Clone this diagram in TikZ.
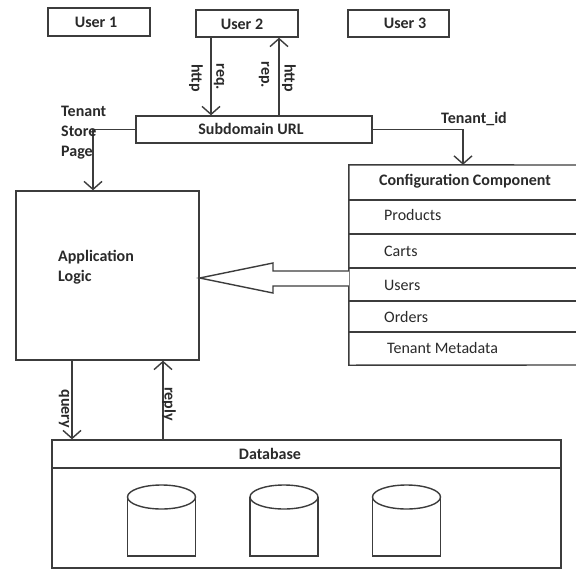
\documentclass[tikz,border=0pt]{standalone}
\usepackage{fontspec}
\setmainfont{Carlito}
\usetikzlibrary{arrows.meta,calc}
\definecolor{ink}{HTML}{3C3C3C}
\definecolor{txt}{HTML}{2A2A2A}
\begin{document}
\begin{tikzpicture}[x=1pt,y=-1pt,
  line/.style={draw=ink, line width=1.4pt},
  box/.style={line, rectangle, inner sep=0pt},
  lbl/.style={text=txt, font=\fontsize{16}{20}\selectfont\bfseries, inner sep=0pt},
  item/.style={text=txt, font=\fontsize{16}{20}\selectfont, inner sep=0pt, anchor=west},
  vlbl/.style={lbl, rotate=-90},
  arr/.style={line, -{Straight Barb[length=8pt,width=18pt]}}]
\useasboundingbox[fill=white] (0,0) rectangle (576,571);

% users
\node[box, minimum width=102pt, minimum height=28pt] (u1) at (99,22) {};
\node[box, minimum width=102pt, minimum height=27pt] (u2) at (247,23.5) {};
\node[box, minimum width=101pt, minimum height=27pt] (u3) at (398.5,23.5) {};
\node[lbl] (u1t) at (96,22) {User 1};
\node[lbl] (u2t) at (242,24) {User 2};
\node[lbl] (u3t) at (405,23) {User 3};

% subdomain
\node[box, minimum width=236pt, minimum height=27pt] (sub) at (254,129.5) {};
\node[lbl] (subt) at (251,129) {Subdomain URL};

% application logic
\node[box, minimum width=183pt, minimum height=169pt] (app) at (107.5,275.5) {};
\node[lbl, anchor=west, align=left] (appt) at (58,267) {Application\\Logic};

% configuration component (runs past the right edge)
\node[inner sep=0pt, minimum width=227pt, minimum height=200pt] (cfg) at (462.5,265) {};
\draw[line] (576,165) -- (cfg.north west) -- (cfg.south west) -- (576,365);
\foreach \yy in {200,234,268,301,332} \draw[line] (cfg.west |- 0,\yy) -- (576,\yy);
\node[lbl] (cfgt) at (465,181) {Configuration Component};
\node[item] (c1) at (384,215) {Products};
\node[item] (c2) at (384,251) {Carts};
\node[item] (c3) at (384,285) {Users};
\node[item] (c4) at (384,317) {Orders};
\node[item] (c5) at (387,348) {Tenant Metadata};

% database
\node[box, minimum width=509pt, minimum height=128pt] (db) at (306.5,504) {};
\draw[line] (db.west |- 0,468) -- (db.east |- 0,468);
\node[lbl] (dbt) at (270,454) {Database};
\foreach \cx in {161.5,284,406.5} {
  \draw[line] (\cx-34,497) -- (\cx-34,556) -- (\cx+34,556) -- (\cx+34,497);
  \draw[line, fill=white] (\cx,497) ellipse [x radius=34, y radius=12];
}

% connectors
\coordinate (reqx) at (211,0);
\coordinate (repx) at (279,0);
\coordinate (tsx) at (93,0);
\coordinate (tidx) at (463,0);
\coordinate (qx) at (72,0);
\coordinate (rx) at (163,0);
\draw[arr] (u2.south -| reqx) -- (sub.north -| reqx);
\draw[arr] (sub.north -| repx) -- (u2.south -| repx);
\draw[arr] (sub.west) -| (app.north -| tsx);
\draw[arr] (sub.east) -| (cfg.north -| tidx);
\draw[arr] (app.south -| qx) -- (db.north -| qx);
\draw[arr] (db.north -| rx) -- (app.south -| rx);

% hollow block arrow from configuration to application logic
\coordinate (ha) at (cfg.west |- 0,271);
\coordinate (hb) at (cfg.west |- 0,286);
\coordinate (tip) at (app.east |- 0,278);
\draw[line, fill=white, line join=miter] (ha) -- (273,271) -- (273,263) -- (tip) -- (273,293) -- (273,286) -- (hb);

% connector labels
\node[vlbl] (l1) at (196,78) {http};
\node[vlbl] (l2) at (219,77) {req.};
\node[vlbl] (l3) at (264,75) {rep.};
\node[vlbl] (l4) at (289,78) {http};
\node[lbl, anchor=north west, align=left] (tsp) at (61,106) {Tenant\\Store\\Page};
\node[lbl] (tid) at (474,119) {Tenant\_id};
\node[vlbl] (l5) at (64,409) {query};
\node[vlbl] (l6) at (169,404) {reply};
\end{tikzpicture}
\end{document}
